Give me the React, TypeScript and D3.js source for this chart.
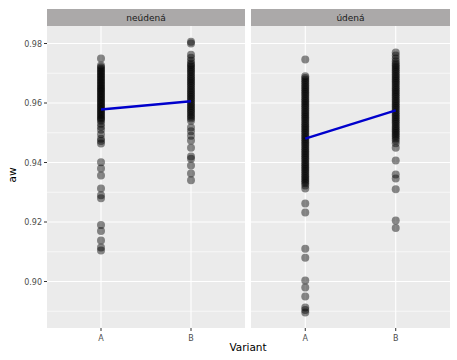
import React from "react";
import * as d3 from "d3";

const facets = ["neúdená", "údená"];
const variants = ["A", "B"];
const yTicks = [0.9, 0.92, 0.94, 0.96, 0.98];

const neudenaA = [
  0.975, 0.9726, 0.972, 0.9715, 0.971, 0.9705, 0.97, 0.9695, 0.969, 0.9685, 0.968, 0.9675, 0.967, 0.9665,
  0.966, 0.9655, 0.965, 0.9645, 0.964, 0.9635, 0.963, 0.9625, 0.962, 0.9615, 0.961, 0.9605, 0.96, 0.9595,
  0.959, 0.9585, 0.958, 0.9575, 0.957, 0.9565, 0.956, 0.9555, 0.955, 0.9545, 0.954, 0.953, 0.952, 0.951,
  0.9495, 0.948, 0.9472, 0.9464, 0.9401, 0.938, 0.9356, 0.9313, 0.929, 0.928, 0.919, 0.917, 0.9138, 0.9114,
  0.9104,
];
const neudenaB = [
  0.9806, 0.98, 0.9762, 0.9752, 0.9742, 0.9733, 0.9728, 0.9722, 0.9716, 0.971, 0.9704, 0.9698, 0.9692,
  0.9686, 0.968, 0.9674, 0.9668, 0.9662, 0.9656, 0.965, 0.9644, 0.9638, 0.9632, 0.9626, 0.962, 0.9614,
  0.9608, 0.9602, 0.9596, 0.959, 0.9584, 0.9578, 0.9572, 0.9566, 0.956, 0.9554, 0.9548, 0.954, 0.9518,
  0.9505, 0.949, 0.9474, 0.945, 0.942, 0.9413, 0.939, 0.9363, 0.934,
];
const udenaA = [
  0.9746, 0.969, 0.9684, 0.9678, 0.9672, 0.9666, 0.966, 0.9654, 0.9648, 0.9642, 0.9636, 0.963, 0.9624,
  0.9618, 0.9612, 0.9606, 0.96, 0.9594, 0.9588, 0.9582, 0.9576, 0.957, 0.9564, 0.9558, 0.9552, 0.9546,
  0.954, 0.9534, 0.9528, 0.9522, 0.9516, 0.951, 0.9504, 0.9498, 0.9492, 0.9486, 0.948, 0.9474, 0.9468,
  0.9462, 0.9456, 0.945, 0.9444, 0.9438, 0.9432, 0.9426, 0.942, 0.9414, 0.9408, 0.9402, 0.9396, 0.939,
  0.9384, 0.9378, 0.9372, 0.9366, 0.936, 0.9354, 0.9348, 0.9342, 0.9336, 0.933, 0.9323, 0.9313, 0.9262,
  0.9232, 0.911, 0.908, 0.9003, 0.898, 0.895, 0.8913, 0.8904, 0.8896,
];
const udenaB = [
  0.977, 0.976, 0.975, 0.974, 0.9733, 0.9727, 0.9721, 0.9715, 0.9709, 0.9703, 0.9697, 0.9691, 0.9685,
  0.9679, 0.9673, 0.9667, 0.9661, 0.9655, 0.9649, 0.9643, 0.9637, 0.9631, 0.9625, 0.9619, 0.9613, 0.9607,
  0.9601, 0.9595, 0.9589, 0.9583, 0.9577, 0.9571, 0.9565, 0.9559, 0.9553, 0.9547, 0.9541, 0.9535, 0.9529,
  0.9523, 0.9517, 0.9511, 0.9505, 0.9499, 0.9493, 0.9487, 0.9481, 0.9474, 0.9465, 0.945, 0.9407, 0.936,
  0.9346, 0.931, 0.9205, 0.918,
];
const meansNeudena = [0.9578, 0.9606];
const meansUdena = [0.948, 0.9575];

const pointsByFacet = [
  [neudenaA, neudenaB],
  [udenaA, udenaB],
];
const meansByFacet = [meansNeudena, meansUdena];

const W = 457;
const H = 360;
const panelTop = 26;
const panelBottom = 328;
const stripTop = 9;
const panels = [
  { x0: 47, x1: 245 },
  { x0: 251, x1: 450 },
];
const font = "'DejaVu Sans', Verdana, sans-serif";

export default function App() {
  const y = d3.scaleLinear().domain([0.9, 0.98]).range([281.5, 43.5]);
  const yMinor = [0.89, 0.91, 0.93, 0.95, 0.97];
  return (
    <svg width={W} height={H} style={{ position: "absolute", left: 0, top: 0, background: "#fff" }}>
      <rect x={0} y={0} width={W} height={H} fill="#fff" />
      {panels.map((p, fi) => {
        const x = d3
          .scalePoint<string>()
          .domain(variants)
          .range([p.x0, p.x1])
          .padding(0.6);
        const line = d3
          .line<number>()
          .x((_, i) => x(variants[i]) as number)
          .y((d) => y(d));
        return (
          <g key={fi}>
            <rect x={p.x0} y={panelTop} width={p.x1 - p.x0} height={panelBottom - panelTop} fill="#EBEBEB" />
            {yMinor.map((t) => (
              <line key={"m" + t} x1={p.x0} x2={p.x1} y1={y(t)} y2={y(t)} stroke="#fff" strokeWidth={0.6} />
            ))}
            {yTicks.map((t) => (
              <line key={"g" + t} x1={p.x0} x2={p.x1} y1={y(t)} y2={y(t)} stroke="#fff" strokeWidth={1.1} />
            ))}
            {variants.map((v) => (
              <line
                key={"v" + v}
                x1={x(v)}
                x2={x(v)}
                y1={panelTop}
                y2={panelBottom}
                stroke="#fff"
                strokeWidth={1.1}
              />
            ))}
            {pointsByFacet[fi].map((vals, vi) =>
              vals.map((d, k) => (
                <circle
                  key={vi + "-" + k}
                  cx={x(variants[vi])}
                  cy={y(d)}
                  r={4}
                  fill="#000"
                  fillOpacity={0.45}
                />
              ))
            )}
            <path d={line(meansByFacet[fi]) || ""} fill="none" stroke="#0000CC" strokeWidth={2.4} />
            <rect x={p.x0} y={stripTop} width={p.x1 - p.x0} height={panelTop - stripTop} fill="#ABA9A9" />
            <text
              x={(p.x0 + p.x1) / 2}
              y={(stripTop + panelTop) / 2 + 3.5}
              textAnchor="middle"
              fontFamily={font}
              fontSize={9}
              fill="#1A1A1A"
            >
              {facets[fi]}
            </text>
            {variants.map((v) => (
              <g key={"xt" + v}>
                <line x1={x(v)} x2={x(v)} y1={panelBottom} y2={panelBottom + 3} stroke="#333" strokeWidth={1} />
                <text
                  x={x(v)}
                  y={panelBottom + 13}
                  textAnchor="middle"
                  fontFamily={font}
                  fontSize={8}
                  fill="#4D4D4D"
                >
                  {v}
                </text>
              </g>
            ))}
          </g>
        );
      })}
      {yTicks.map((t) => (
        <g key={"yt" + t}>
          <line x1={44} x2={47} y1={y(t)} y2={y(t)} stroke="#333" strokeWidth={1} />
          <text x={42} y={y(t) + 3} textAnchor="end" fontFamily={font} fontSize={8} fill="#4D4D4D">
            {d3.format(".2f")(t)}
          </text>
        </g>
      ))}
      <text
        transform={`translate(16,175) rotate(-90)`}
        textAnchor="middle"
        fontFamily={font}
        fontSize={10.5}
        fill="#000"
      >
        aw
      </text>
      <text x={248} y={351} textAnchor="middle" fontFamily={font} fontSize={10.5} fill="#000">
        Variant
      </text>
    </svg>
  );
}
